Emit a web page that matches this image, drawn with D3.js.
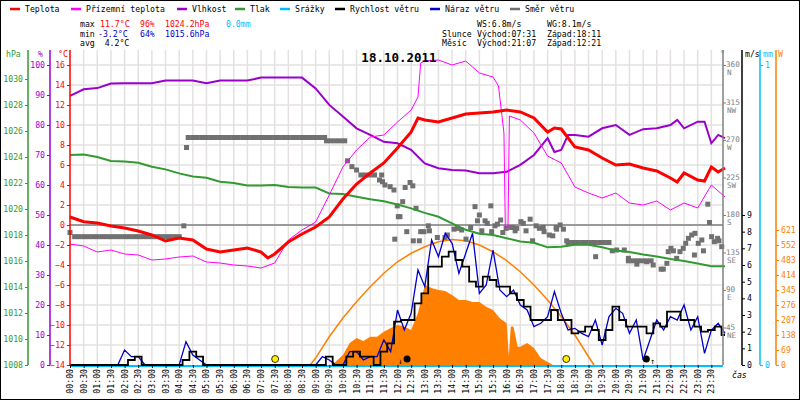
<!DOCTYPE html>
<html><head><meta charset="utf-8">
<script src="https://cdn.jsdelivr.net/npm/d3@7"></script>
<style>body{margin:0;background:#fff}text{font-family:"DejaVu Sans Mono",monospace;font-size:8.2px}</style>
</head><body><svg id="c" width="800" height="400"></svg>
<script>
// ---- data (time in hours) ----
const temperature=[[0,0.8],[0.5,0.33],[1,0.2],[1.5,-0.1],[2,-0.3],[2.5,-0.6],[3,-1.0],[3.5,-1.6],[4,-1.3],[4.5,-1.5],[5,-2.4],[5.5,-2.7],[6,-2.5],[6.5,-2.3],[7,-2.7],[7.25,-3.3],[7.5,-2.9],[8,-1.7],[8.5,-0.9],[9,-0.2],[9.5,0.8],[10,2.6],[10.5,4.1],[11,5.2],[11.5,6.2],[12,7.7],[12.5,9.3],[12.75,10.7],[13,10.5],[13.5,10.3],[14,10.7],[14.5,11.1],[15,11.2],[15.5,11.3],[16,11.5],[16.5,11.3],[17,10.7],[17.5,9.3],[17.75,9.7],[18,9.6],[18.5,7.8],[19,7.5],[19.5,6.7],[20,6.0],[20.5,6.1],[21,5.7],[21.5,5.4],[22,4.7],[22.25,4.3],[22.5,5.2],[23,4.5],[23.25,4.4],[23.5,5.8],[23.75,5.3],[24,5.7]];
const apparentTemp=[[0,-1.9],[0.5,-2.1],[1,-2.7],[1.5,-2.5],[2,-2.9],[2.5,-3.0],[3,-3.5],[3.5,-3.4],[4,-3.2],[4.5,-3.1],[5,-3.7],[5.5,-3.8],[6,-4.0],[6.5,-4.1],[7,-4.3],[7.5,-3.8],[8,-1.5],[8.5,-0.5],[9,0.3],[9.5,3.0],[10,5.8],[10.5,7.5],[11,8.8],[11.5,9.0],[12,10.3],[12.5,11.5],[12.75,12.8],[12.85,16.2],[13,16.4],[13.5,16.5],[14,16.0],[14.5,16.4],[15,15.2],[15.5,14.8],[15.7,13.9],[15.9,9.2],[15.95,-0.2],[16.05,-0.2],[16.1,10.9],[16.5,10.5],[17,9.2],[17.5,6.9],[18,6.2],[18.5,3.8],[19,3.2],[19.5,2.7],[20,3.2],[20.5,2.2],[21,2.0],[21.5,2.4],[22,1.5],[22.5,2.2],[23,1.7],[23.5,4.0],[24,2.8]];
const humidity=[[0,89.7],[0.5,91.9],[1,92.3],[1.5,93.8],[2,93.9],[3,93.9],[3.5,94.8],[4.5,94.8],[5,93.9],[5.5,94.8],[6.5,94.8],[7,95.8],[8.5,95.8],[9,92.2],[9.5,86.7],[10,82.8],[10.5,78.9],[11,76.7],[11.5,74.4],[12,73.9],[12.5,71.7],[13,67.2],[13.5,65.6],[14,65.0],[14.5,64.8],[15,63.9],[15.5,63.9],[16,64.4],[16.5,66.7],[17,70],[17.5,75.6],[17.75,71],[18,71.7],[18.25,76.7],[18.5,76.7],[19,76.1],[19.5,78.9],[20,80],[20.5,76.7],[21,78.6],[21.5,78.9],[22,80],[22.25,81.7],[22.5,78.9],[23,81.1],[23.25,81.1],[23.5,73.9],[23.75,76.7],[24,75.6]];
const pressure=[[0,1024.15],[0.5,1024.2],[1,1024.0],[1.5,1023.7],[2,1023.65],[2.5,1023.56],[3,1023.25],[3.5,1023.05],[4,1022.74],[4.5,1022.5],[5,1022.4],[5.5,1022.1],[6,1022.0],[6.5,1021.8],[7,1021.8],[7.5,1021.85],[8,1021.7],[8.5,1021.65],[9,1021.65],[9.5,1021.2],[10,1021.15],[10.5,1020.95],[11,1020.75],[11.5,1020.6],[12,1020.35],[12.5,1020.05],[13,1019.7],[13.5,1019.4],[14,1018.9],[14.5,1018.4],[15,1018.1],[15.5,1018.0],[16,1017.75],[16.5,1017.5],[17,1017.4],[17.5,1017.05],[18,1017.1],[18.5,1017.25],[19,1017.25],[19.5,1017.05],[20,1016.8],[20.5,1016.7],[21,1016.5],[21.5,1016.35],[22,1016.15],[22.5,1016.0],[23,1015.8],[23.5,1015.6],[24,1015.6]];
const windSpeed=[0,0,0,0,0,0,0,0,0,0.3,0.5,0,0,0,0,0,0,0.3,0.8,0.5,0,0,0,0,0,0,0,0,0,0,0,0,0,0,0,0,0,0,0.5,0,0,0.5,0.8,0.5,0.5,0,0.8,1.3,2.6,2.7,2.7,3.7,4.3,5.9,5.9,6.5,6.8,6.3,5.9,5.0,4.7,5.3,5.1,4.7,4.7,4.3,3.9,3.5,2.7,2.7,2.7,3.3,2.7,2.7,1.9,2.0,2.3,2.1,1.5,2.1,3.5,2.7,2.3,2.3,2.3,1.9,2.5,2.3,3.2,3.2,2.7,2.7,2.3,2.0,2.1,2.3,1.8];
const windGust=[0,0,0,0,0,0,0,0,0.9,0.5,0.5,0,0,0,0,0,0,1.4,0.6,0.3,0,0,0,0,0,0,0,0,0,0,0,0,0,0,0,0,0,0.5,0.3,0,0,0.8,0.8,0.3,0.5,0.5,1.5,0.8,3.3,2.1,3.1,5.7,4.7,7.5,6.5,7.9,7.3,5.5,6.7,7.9,4.3,4.8,6.9,4.5,4.1,4.5,3.6,3.3,2.3,2.5,2.9,4.4,3.1,2.1,2.2,1.9,1.7,2.7,1.2,2.9,3.4,3.1,1.9,2.7,0.3,1.5,2.7,2.1,2.9,2.7,3.6,2.1,2.9,0.7,2.1,2.5,1.9];
const solarMeasured=[[9.6,0],[10,46],[10.25,101],[10.5,124],[10.75,110],[11,130],[11.25,130],[11.5,153],[11.75,170],[12,184],[12.25,177],[12.5,161],[12.75,239],[13,368],[13.25,354],[13.5,345],[13.75,340],[14,322],[14.25,299],[14.5,299],[14.75,290],[15,290],[15.25,268],[15.5,253],[15.75,215],[16,192],[16.08,41],[16.15,177],[16.25,177],[16.4,84],[16.5,84],[16.75,101],[17,78],[17.25,32],[17.5,14],[17.7,0]];
const solarTheory=[[8.8,0],[9,32],[9.5,130],[10,216],[10.5,291],[11,360],[11.5,422],[12,475],[12.5,514],[13,544],[13.5,567],[14,577],[14.5,572],[15,552],[15.5,521],[16,480],[16.5,429],[17,368],[17.5,299],[18,222],[18.5,138],[19,38],[19.2,0]];
const dirRuns=[[0.17,4.1,154],[4.33,9.4,273],[9.4,10.15,269],[10.66,11.2,228],[18.25,19.82,147],[20.46,21.33,125]];
const dirPoints=[[0,159],[4.17,167],[4.27,261],[10.17,245],[10.33,238],[10.5,234],[11.34,222],[11.42,228],[11.45,220],[11.54,216],[11.73,214],[11.87,210],[11.9,151],[11.99,191],[12.03,178],[12.09,178],[12.19,196],[12.28,213],[12.34,160],[12.46,219],[12.56,215],[12.58,149],[12.68,188],[12.8,149],[12.85,160],[12.97,160],[13.13,167],[13.17,161],[13.46,153],[13.74,153],[13.83,156],[14.07,163],[14.19,164],[14.35,162],[14.51,151],[14.68,165],[14.84,190],[14.93,173],[15.0,180],[15.09,161],[15.21,173],[15.29,170],[15.42,191],[15.45,160],[15.57,167],[15.66,169],[15.78,174],[15.86,159],[15.98,164],[16.15,165],[16.22,165],[16.31,161],[16.37,164],[16.52,172],[16.61,170],[16.71,161],[16.86,175],[16.95,149],[17.08,167],[17.2,164],[17.34,165],[17.37,160],[17.56,156],[17.69,155],[17.81,165],[17.83,163],[17.96,168],[18.08,163],[18.2,149],[19.26,130],[19.87,137],[20.03,138],[20.31,138],[20.46,128],[20.77,121],[21.13,124],[21.37,120],[21.66,115],[21.74,115],[21.87,122],[21.92,136],[22.02,140],[22.11,137],[22.23,128],[22.35,136],[22.47,140],[22.56,146],[22.66,152],[22.78,156],[22.9,158],[22.88,132],[23.02,146],[23.15,150],[23.21,137],[23.37,193],[23.43,171],[23.51,154],[23.61,148],[23.73,152],[23.78,149],[23.88,142]];
const sunEvents=[7+31/60,18+11/60];
const moonEvents=[12+21/60,21+7/60];
const timeLabels=d3.range(0,48).map(i=>String(Math.floor(i/2)).padStart(2,"0")+":"+(i%2?"30":"00"));
const legend=[["Teplota","#ff0000",10],["Přízemní teplota","#ff00ff",71],["Vlhkost","#9900cc",177],["Tlak","#339933",235],["Srážky","#00bfff",280],["Rychlost větru","#000000",335],["Náraz větru","#0000cc",430],["Směr větru","#707070",510]];
const dirNames=["N","NW","W","SW","S","SE","E","NE"];

// ---- chart ----
const svg=d3.select("#c");
const x=d3.scaleLinear([0,24],[70,725]);
const yT=d3.scaleLinear([-14,16],[365,65]);
const yH=d3.scaleLinear([0,100],[365,65]);
const yP=d3.scaleLinear([1008,1030],[365,79]);
const yD=d3.scaleLinear([0,360],[365,65]);
const yS=d3.scaleLinear([0,9],[365,215]);
const yW=d3.scaleLinear([0,690],[365,215]);
const yR=d3.scaleLinear([0,1],[365,65]);
svg.append("rect").attr("x",0.5).attr("y",0.5).attr("width",799).attr("height",399).attr("fill","#fff").attr("stroke","#000");
const g=svg.append("g");
d3.range(1,48).forEach(i=>g.append("line").attr("x1",x(i/2)).attr("x2",x(i/2)).attr("y1",50).attr("y2",365).attr("stroke","#e4e0e0").attr("stroke-width",1.5));
d3.range(-12,18,2).forEach(v=>g.append("line").attr("x1",70).attr("x2",723).attr("y1",yT(v)).attr("y2",yT(v)).attr("stroke","#e4e0e0").attr("stroke-width",1.5));
g.append("line").attr("x1",70).attr("x2",723).attr("y1",yT(0)).attr("y2",yT(0)).attr("stroke","#808080").attr("stroke-width",1.5);
svg.append("path").datum(solarMeasured).attr("fill","#ff8000").attr("d",d3.area().x(d=>x(d[0])).y0(365).y1(d=>yW(d[1])));
svg.append("path").datum(solarTheory).attr("fill","none").attr("stroke","#ff8000").attr("stroke-width",1.5).attr("d",d3.line().x(d=>x(d[0])).y(d=>yW(d[1])));
const dirG=svg.append("g").attr("fill","#707070");
const pts=dirPoints.slice();
dirRuns.forEach(r=>{for(let t=r[0];t<=r[1]+1e-6;t+=1/6)pts.push([t,r[2]]);});
dirG.selectAll("rect").data(pts).join("rect").attr("x",d=>x(d[0])-2.5).attr("y",d=>yD(d[1])-2.5).attr("width",5).attr("height",5);
const line=(data,y)=>d3.line().x(d=>x(d[0])).y(d=>y(d[1]))(data);
svg.append("path").attr("d",line(pressure,yP)).attr("fill","none").attr("stroke","#339933").attr("stroke-width",2);
svg.append("path").attr("d",line(humidity,yH)).attr("fill","none").attr("stroke","#9900cc").attr("stroke-width",2);
svg.append("path").attr("d",line(apparentTemp,yT)).attr("fill","none").attr("stroke","#ff00ff").attr("stroke-width",1);
svg.append("path").attr("d",line(temperature,yT)).attr("fill","none").attr("stroke","#ff0000").attr("stroke-width",3);
svg.append("line").attr("x1",70).attr("x2",723).attr("y1",yR(0)+1).attr("y2",yR(0)+1).attr("stroke","#00bfff").attr("stroke-width",2);
const qx=(d,i)=>x(i/4);
svg.append("path").attr("d",d3.line().x(qx).y(d=>yS(d))(windGust)).attr("fill","none").attr("stroke","#0000cc").attr("stroke-width",1.3);
svg.append("path").attr("d",d3.line().x(qx).y(d=>yS(d)).curve(d3.curveStep)(windSpeed)).attr("fill","none").attr("stroke","#000").attr("stroke-width",1.8);
sunEvents.forEach(t=>svg.append("circle").attr("cx",x(t)).attr("cy",359).attr("r",3.5).attr("fill","#ffee00").attr("stroke","#000").attr("stroke-width",0.8));
moonEvents.forEach((t,i)=>{svg.append("circle").attr("cx",x(t)).attr("cy",359).attr("r",3.5).attr("fill","#000");
  svg.append("text").attr("x",x(t)+(i?4:-9)).attr("y",364).style("font-size","8px").text(i?"↑":"↓");});
function ax(axis,xp,color,sc,ticks){const a=svg.append("g").attr("transform",`translate(${xp},0)`).call(axis(sc).tickValues(ticks).tickFormat(d3.format("d")).tickSize(3).tickPadding(2));
 a.select(".domain").attr("stroke",color).attr("stroke-width",1.5).attr("d","M0,50V365");a.selectAll("line").attr("stroke",color);a.selectAll("text").attr("fill",color).style("font-size","8.2px").style("font-family","DejaVu Sans Mono");return a;}
ax(d3.axisLeft,28,"#339933",yP,d3.range(1008,1031,2));
ax(d3.axisLeft,50,"#9900cc",yH,d3.range(0,101,10));
ax(d3.axisLeft,70,"#ff0000",yT,d3.range(-14,17,2));
const a4=ax(d3.axisRight,723,"#808080",yD,d3.range(45,361,45));
a4.selectAll(".tick text").attr("dy","0.2em").attr("x",3).style("font-size","7.6px");
a4.selectAll(".tick").append("text").attr("x",4).attr("y",9.5).attr("fill","#808080").style("font-size","7.6px").text((d,i)=>dirNames[7-i]);
ax(d3.axisRight,742,"#000",yS,d3.range(0,10));
ax(d3.axisRight,760,"#00bfff",yR,[0,1]);
ax(d3.axisRight,776,"#ff8000",yW,d3.range(0,622,69));
const hdr=[["hPa",6,"#339933"],["%",38,"#9900cc"],["°C",58,"#ff0000"],["°",720,"#808080"],["m/s",745,"#000"],["mm",763,"#00bfff"],["W",778,"#ff8000"]];
hdr.forEach(h=>svg.append("text").attr("x",h[1]).attr("y",57).attr("fill",h[2]).text(h[0]));
svg.append("g").attr("transform","translate(0,365)").call(d3.axisBottom(x).tickValues(d3.range(0,24,0.5)).tickSize(3).tickFormat("")).call(a=>{a.select(".domain").remove();a.selectAll("line").attr("stroke","#000");});
timeLabels.forEach((l,i)=>svg.append("text").attr("transform",`translate(${x(i/2)+3},369) rotate(-90)`).attr("text-anchor","end").text(l));
svg.append("text").attr("x",732).attr("y",378).style("font-style","italic").text("čas");
legend.forEach(l=>{svg.append("line").attr("x1",l[2]).attr("x2",l[2]+10).attr("y1",9).attr("y2",9).attr("stroke",l[1]).attr("stroke-width",2.5);
 svg.append("text").attr("x",l[2]+15).attr("y",12).text(l[0]);});
const st=[["max",80,27,"#000"],["11.7°C",100,27,"#ff0000"],["96%",140,27,"#ff0000"],["1024.2hPa",165,27,"#ff0000"],["0.0mm",226,27,"#00bfff"],
["min",80,37,"#000"],["-3.2°C",98,37,"#0000cc"],["64%",140,37,"#0000cc"],["1015.6hPa",165,37,"#0000cc"],["avg  4.2°C",80,46,"#000"],
["WS:6.8m/s",477,27,"#000"],["WG:8.1m/s",547,27,"#000"],["Slunce",442,37,"#000"],["Východ:07:31",477,37,"#000"],["Západ:18:11",547,37,"#000"],
["Měsíc",442,46,"#000"],["Východ:21:07",477,46,"#000"],["Západ:12:21",547,46,"#000"]];
st.forEach(s=>svg.append("text").attr("x",s[1]).attr("y",s[2]).attr("fill",s[3]).attr("xml:space","preserve").style("white-space","pre").text(s[0]));
svg.append("text").attr("x",399).attr("y",62).attr("text-anchor","middle").style("font-size","12.5px").style("font-weight","bold").text("18.10.2011");
</script></body></html>
